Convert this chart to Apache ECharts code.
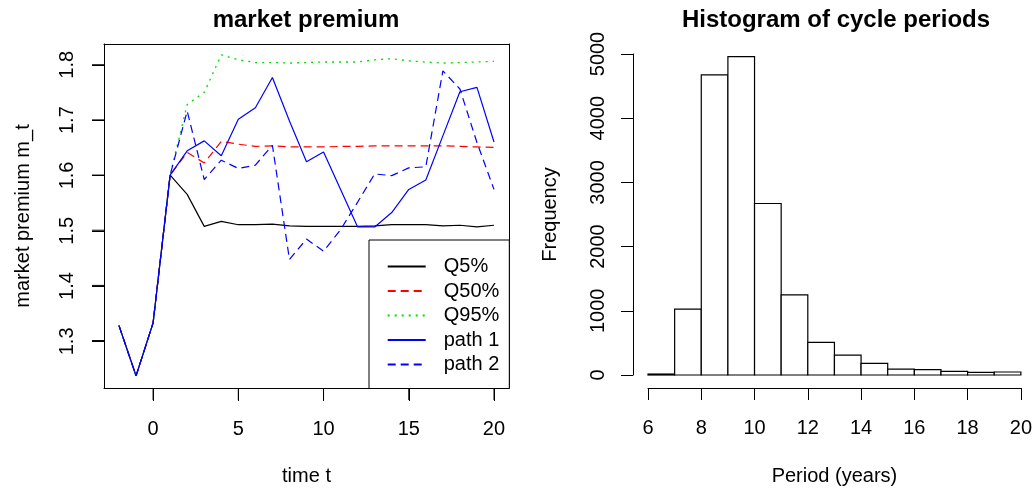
<!DOCTYPE html>
<html>
	<head>
		<meta charset="UTF-8">
		<title>market premium / cycle periods</title>
		<style type="text/css">
			html, body { margin: 0; padding: 0; background: #fff; }
			#box { width: 1035px; height: 491px; }
		</style>
		<script src="https://cdn.jsdelivr.net/npm/echarts@6/dist/echarts.min.js"></script>
	</head>
	<body>
		<div id="box"></div>
		<script>
			var times = [-2, -1, 0, 1, 2, 3, 4, 5, 6, 7, 8, 9, 10, 11, 12, 13, 14, 15, 16, 17, 18, 19, 20];
			// the first four points are shared by every line
			var q5 = [1.327, 1.236, 1.332, 1.600, 1.565, 1.507, 1.516, 1.510, 1.510, 1.511, 1.508, 1.507, 1.507, 1.507, 1.507, 1.508, 1.510, 1.510, 1.510, 1.508, 1.509, 1.506, 1.509];
			var q50 = [1.327, 1.236, 1.332, 1.600, 1.641, 1.622, 1.661, 1.656, 1.652, 1.653, 1.651, 1.651, 1.651, 1.652, 1.652, 1.653, 1.653, 1.653, 1.653, 1.653, 1.652, 1.651, 1.650];
			var q95 = [1.327, 1.236, 1.332, 1.600, 1.728, 1.750, 1.818, 1.809, 1.804, 1.804, 1.803, 1.804, 1.805, 1.805, 1.805, 1.809, 1.811, 1.807, 1.805, 1.803, 1.804, 1.805, 1.806];
			var path1 = [1.327, 1.236, 1.332, 1.600, 1.644, 1.662, 1.635, 1.701, 1.722, 1.777, 1.698, 1.624, 1.642, 1.574, 1.506, 1.506, 1.532, 1.574, 1.591, 1.671, 1.751, 1.759, 1.660];
			var path2 = [1.327, 1.236, 1.332, 1.600, 1.716, 1.592, 1.627, 1.612, 1.618, 1.654, 1.447, 1.484, 1.462, 1.501, 1.551, 1.602, 1.599, 1.613, 1.615, 1.789, 1.756, 1.659, 1.574];

			var periodBreaks = [6, 7, 8, 9, 10, 11, 12, 13, 14, 15, 16, 17, 18, 19, 20];
			var periodCounts = [15, 1025, 4674, 4959, 2671, 1247, 507, 311, 181, 93, 83, 57, 41, 47];

			var xTicksLeft = [0, 5, 10, 15, 20];
			var yTicksLeft = [1.3, 1.4, 1.5, 1.6, 1.7, 1.8];

			// left plot range, R style (data range + 4%)
			var leftXMin = -2.88, leftXMax = 20.88;
			var leftYMin = 1.214, leftYMax = 1.8376;

			var font = 'Liberation Sans, Arial, sans-serif';

			function pairs(vals) {
				return times.map(function (t, i) { return [t, vals[i]]; });
			}

			var bins = [];
			for (var i = 0; i < periodCounts.length; i++) {
				bins.push([periodBreaks[i], periodBreaks[i + 1], periodCounts[i]]);
			}

			var chart = echarts.init(document.getElementById('box'));

			function txt() { return { fontFamily: font, fontSize: 20, color: '#000' }; }
			function blackLine() { return { show: true, onZero: false, lineStyle: { color: '#000', width: 1 } }; }
			function blackTick() { return { show: true, inside: false, length: 12, lineStyle: { color: '#000', width: 1 } }; }
			function hidden() { return { show: false }; }
			function tickLines() { return { show: true, lineStyle: { color: '#000', width: 1 } }; }

			// box edge of the left plot: only a line, no ticks or labels
			function edgeAxis(pos, min, max) {
				return {
					gridIndex: 0, type: 'value', position: pos, min: min, max: max,
					splitLine: hidden(), axisLine: blackLine(), axisTick: hidden(), axisLabel: hidden()
				};
			}

			function lineSeries(name, vals, color, width, dash) {
				return {
					name: name, type: 'line', xAxisIndex: 0, yAxisIndex: 0, symbol: 'none',
					data: pairs(vals),
					lineStyle: { color: color, width: width, type: dash || 'solid' },
					itemStyle: { color: color }
				};
			}

			// tick marks of the left plot, placed through the plot's own scales
			var xTickSeries = {
				name: 'xticks', type: 'custom', xAxisIndex: 0, yAxisIndex: 0, clip: false, silent: true,
				data: xTicksLeft.map(function (t) { return [t, leftYMin]; }),
				renderItem: function (params, api) {
					var p = api.coord([api.value(0), api.value(1)]);
					return {
						type: 'line',
						shape: { x1: p[0], y1: p[1], x2: p[0], y2: p[1] + 12 },
						style: { stroke: '#000', lineWidth: 1 }
					};
				}
			};
			var yTickSeries = {
				name: 'yticks', type: 'custom', xAxisIndex: 0, yAxisIndex: 0, clip: false, silent: true,
				data: yTicksLeft.map(function (v) { return [leftXMin, v]; }),
				renderItem: function (params, api) {
					var p = api.coord([api.value(0), api.value(1)]);
					return {
						type: 'line',
						shape: { x1: p[0], y1: p[1], x2: p[0] - 12, y2: p[1] },
						style: { stroke: '#000', lineWidth: 1 }
					};
				}
			};

			var option = {
				animation: false,
				backgroundColor: '#fff',
				textStyle: { fontFamily: font, color: '#000' },
				title: [{
					text: 'market premium',
					left: 306, top: 8, padding: 0,
					textAlign: 'center',
					textStyle: { fontFamily: font, fontSize: 24, fontWeight: 'bold', color: '#000' }
				}, {
					text: 'Histogram of cycle periods',
					left: 836, top: 8, padding: 0,
					textAlign: 'center',
					textStyle: { fontFamily: font, fontSize: 24, fontWeight: 'bold', color: '#000' }
				}],
				grid: [{
					// plot box
					left: 104, top: 44, width: 405, height: 345
				}, {
					// label strip under the box: t 0..20
					left: 153.09, top: 389, width: 340.9, height: 12
				}, {
					left: 648, top: 54, width: 376, height: 322
				}, {
					// label strip left of the box: m 1.3..1.8
					left: 92, top: 64.8, width: 12, height: 276.6
				}],
				legend: {
					left: 369, top: 240,
					orient: 'vertical',
					backgroundColor: '#fff',
					borderColor: '#000', borderWidth: 1, borderRadius: 0,
					padding: [16.5, 10, 14, 17.7],
					itemWidth: 38, itemHeight: 14, itemGap: 4.5,
					itemStyle: { opacity: 0 },
					textStyle: { fontFamily: font, fontSize: 20, color: '#000', padding: [0, 0, 0, 13] },
					data: ['Q5%', 'Q50%', 'Q95%', 'path 1', 'path 2']
				},
				xAxis: [{
					gridIndex: 0, type: 'value', min: leftXMin, max: leftXMax,
					splitLine: hidden(), axisLine: blackLine(), axisTick: hidden(), axisLabel: hidden(),
					name: 'time t', nameLocation: 'middle', nameGap: 78,
					nameTextStyle: txt()
				}, {
					gridIndex: 1, type: 'value', min: 0, max: 20, interval: 5,
					splitLine: tickLines(),
					axisLine: hidden(),
					axisTick: hidden(),
					axisLabel: Object.assign({ margin: 18 }, txt())
				}, {
					gridIndex: 2, type: 'value', min: 6, max: 20, interval: 2,
					offset: 13,
					splitLine: hidden(),
					axisLine: blackLine(),
					axisTick: blackTick(),
					axisLabel: Object.assign({ margin: 30 }, txt()),
					name: 'Period (years)', nameLocation: 'middle', nameGap: 78,
					nameTextStyle: txt()
				}, edgeAxis('top', leftXMin, leftXMax), {
					gridIndex: 3, type: 'value', min: 0, max: 1, show: false
				}],
				yAxis: [{
					gridIndex: 0, type: 'value', min: leftYMin, max: leftYMax,
					splitLine: hidden(), axisLine: blackLine(), axisTick: hidden(), axisLabel: hidden(),
					name: 'market premium m_t', nameLocation: 'middle', nameGap: 71, nameRotate: 90,
					nameTextStyle: txt()
				}, {
					gridIndex: 3, type: 'value', min: 1.3, max: 1.8, interval: 0.1,
					splitLine: tickLines(),
					axisLine: hidden(),
					axisTick: hidden(),
					axisLabel: Object.assign({
						rotate: 90, margin: 15,
						formatter: function (v) { return v.toFixed(1); }
					}, txt())
				}, {
					gridIndex: 2, type: 'value', min: 0, max: 5000, interval: 1000,
					offset: 15,
					splitLine: hidden(),
					axisLine: blackLine(),
					axisTick: blackTick(),
					axisLabel: Object.assign({ rotate: 90, margin: 25, formatter: function (v) { return String(v); } }, txt()),
					name: 'Frequency', nameLocation: 'middle', nameGap: 73, nameRotate: 90,
					nameTextStyle: txt()
				}, edgeAxis('right', leftYMin, leftYMax), {
					gridIndex: 1, type: 'value', min: 0, max: 1, show: false
				}],
				series: [
					lineSeries('Q5%', q5, '#000', 1.2),
					lineSeries('Q50%', q50, '#ff0000', 1.2, [8, 5]),
					lineSeries('Q95%', q95, '#00dd00', 1.3, [2, 5]),
					lineSeries('path 1', path1, '#0000ff', 1.2),
					lineSeries('path 2', path2, '#0000ff', 1.2, [8, 5]),
					xTickSeries,
					yTickSeries,
					{
						name: 'hist', type: 'custom', xAxisIndex: 2, yAxisIndex: 2,
						encode: { x: [0, 1], y: 2 },
						data: bins,
						renderItem: function (params, api) {
							var p0 = api.coord([api.value(0), api.value(2)]);
							var p1 = api.coord([api.value(1), 0]);
							return {
								type: 'rect',
								shape: { x: p0[0], y: p0[1], width: p1[0] - p0[0], height: p1[1] - p0[1] },
								style: { fill: '#fff', stroke: '#000', lineWidth: 1.2 }
							};
						}
					}
				]
			};

			chart.setOption(option);
		</script>
	</body>
</html>
